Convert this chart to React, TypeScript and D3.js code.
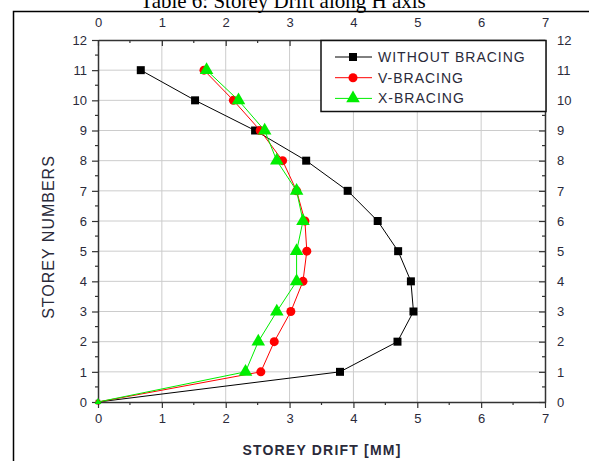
import React, { useRef, useEffect } from 'react';
import * as d3 from 'd3';

const storeys = [0, 1, 2, 3, 4, 5, 6, 7, 8, 9, 10, 11];
const withoutBracing = [0, 3.79, 4.69, 4.94, 4.9, 4.7, 4.38, 3.91, 3.26, 2.46, 1.52, 0.67];
const vBracing = [0, 2.55, 2.76, 3.02, 3.21, 3.27, 3.24, 3.11, 2.89, 2.54, 2.12, 1.66];
const xBracing = [0, 2.31, 2.51, 2.8, 3.11, 3.11, 3.21, 3.11, 2.8, 2.61, 2.2, 1.7];
const xTicks = [0, 1, 2, 3, 4, 5, 6, 7];
const yTicks = [0, 1, 2, 3, 4, 5, 6, 7, 8, 9, 10, 11, 12];
const seriesNames = ['WITHOUT BRACING', 'V-BRACING', 'X-BRACING'];
const seriesColors = ['#000000', '#ff0000', '#00ee00'];

const W = 589;
const H = 461;

const App = () => {
  const svgRef = useRef(null);

  useEffect(() => {
    const svg = d3.select(svgRef.current);
    svg.selectAll('*').remove();

    const x = d3.scaleLinear().domain([0, 7]).range([98, 545]);
    const y = d3.scaleLinear().domain([0, 12]).range([402, 40]);
    const labelColor = '#2a2a3a';
    const font = 'Arial, "Liberation Sans", sans-serif';

    svg.append('rect').attr('width', W).attr('height', H).attr('fill', '#fff');

    // page title, cut off by the top edge like in the scan
    svg.append('text')
      .attr('x', 283).attr('y', 8)
      .attr('text-anchor', 'middle')
      .style('font-family', '"Liberation Serif", "Times New Roman", serif')
      .style('font-size', '21px')
      .text('Table 6: Storey Drift along H axis');

    // outer frame
    svg.append('rect')
      .attr('x', 13.5).attr('y', 11.5).attr('width', 590).attr('height', 470)
      .attr('fill', 'none').attr('stroke', '#000').attr('stroke-width', 1.5);

    // grid
    const grid = svg.append('g').attr('stroke', '#cccccc').attr('stroke-width', 1);
    xTicks.slice(1, -1).forEach(t => {
      grid.append('line').attr('x1', x(t)).attr('x2', x(t)).attr('y1', y(0)).attr('y2', y(12));
    });
    yTicks.slice(1, -1).forEach(t => {
      grid.append('line').attr('x1', x(0)).attr('x2', x(7)).attr('y1', y(t)).attr('y2', y(t));
    });

    // axes
    const axisStyle = (g) => {
      g.selectAll('text').style('font-family', font).style('font-size', '13px').attr('fill', labelColor);
      g.selectAll('path').attr('stroke', '#333').attr('stroke-width', 1.5);
      g.selectAll('line').attr('stroke', '#333').attr('stroke-width', 1.2);
    };
    const minorX = d3.range(0.5, 7, 1);
    const minorY = d3.range(0.5, 12, 1);

    const bottom = svg.append('g').attr('transform', `translate(0,${y(0)})`)
      .call(d3.axisBottom(x).tickValues(xTicks).tickFormat(d3.format('d')).tickSizeInner(6).tickSizeOuter(0).tickPadding(6));
    axisStyle(bottom);
    const top = svg.append('g').attr('transform', `translate(0,${y(12)})`)
      .call(d3.axisTop(x).tickValues(xTicks).tickFormat(d3.format('d')).tickSizeInner(-6).tickSizeOuter(0).tickPadding(13));
    axisStyle(top);
    const left = svg.append('g').attr('transform', `translate(${x(0)},0)`)
      .call(d3.axisLeft(y).tickValues(yTicks).tickFormat(d3.format('d')).tickSizeInner(6).tickSizeOuter(0).tickPadding(5));
    axisStyle(left);
    const right = svg.append('g').attr('transform', `translate(${x(7)},0)`)
      .call(d3.axisRight(y).tickValues(yTicks).tickFormat(d3.format('d')).tickSizeInner(-6).tickSizeOuter(0).tickPadding(12));
    axisStyle(right);

    const minor = svg.append('g').attr('stroke', '#333').attr('stroke-width', 1.2);
    minorX.forEach(t => {
      minor.append('line').attr('x1', x(t)).attr('x2', x(t)).attr('y1', y(0)).attr('y2', y(0) + 3);
      minor.append('line').attr('x1', x(t)).attr('x2', x(t)).attr('y1', y(12)).attr('y2', y(12) + 3);
    });
    minorY.forEach(t => {
      minor.append('line').attr('x1', x(0) - 3).attr('x2', x(0)).attr('y1', y(t)).attr('y2', y(t));
      minor.append('line').attr('x1', x(7) - 3).attr('x2', x(7)).attr('y1', y(t)).attr('y2', y(t));
    });

    // axis titles
    svg.append('text')
      .attr('transform', `translate(54,${y(6) + 16}) rotate(-90)`)
      .attr('text-anchor', 'middle')
      .style('font-family', font).style('font-size', '16px')
      .style('letter-spacing', '1px')
      .attr('fill', labelColor)
      .text('STOREY NUMBERS');
    svg.append('text')
      .attr('x', 322).attr('y', 455)
      .attr('text-anchor', 'middle')
      .style('font-family', font).style('font-size', '14px').style('font-weight', 'bold')
      .style('letter-spacing', '1.2px')
      .attr('fill', labelColor)
      .text('STOREY DRIFT [MM]');

    // series
    const line = d3.line().x(d => x(d[0])).y(d => y(d[1]));
    const all = [withoutBracing, vBracing, xBracing];
    const symbols = [d3.symbolSquare, d3.symbolCircle, d3.symbolTriangle];
    const symSize = [64, 64, 80];

    all.forEach((vals, i) => {
      const pts = vals.map((v, j) => [v, storeys[j]]);
      svg.append('path')
        .datum(pts)
        .attr('d', line)
        .attr('fill', 'none')
        .attr('stroke', seriesColors[i])
        .attr('stroke-width', 1);
      svg.append('g').selectAll('path')
        .data(pts)
        .enter()
        .append('path')
        .attr('transform', d => `translate(${x(d[0])},${y(d[1])})`)
        .attr('d', d3.symbol().type(symbols[i]).size(d => d[1] === 0 ? 20 : symSize[i]))
        .attr('fill', seriesColors[i]);
    });

    // legend
    const lg = svg.append('g');
    lg.append('rect')
      .attr('x', 321).attr('y', 40.5).attr('width', 225).attr('height', 71)
      .attr('fill', '#fff').attr('stroke', '#111').attr('stroke-width', 1.5);
    seriesNames.forEach((name, i) => {
      const ly = 57 + i * 20.7;
      lg.append('line')
        .attr('x1', 335).attr('x2', 372).attr('y1', ly).attr('y2', ly)
        .attr('stroke', seriesColors[i]).attr('stroke-width', 1);
      lg.append('path')
        .attr('transform', `translate(353,${ly})`)
        .attr('d', d3.symbol().type(symbols[i]).size(symSize[i])())
        .attr('fill', seriesColors[i]);
      lg.append('text')
        .attr('x', 378).attr('y', ly + 5)
        .style('font-family', font).style('font-size', '14px')
        .style('letter-spacing', '1px')
        .attr('fill', labelColor)
        .text(name);
    });
  }, []);

  return (
    <svg ref={svgRef} width={W} height={H}
      style={{ position: 'absolute', left: 0, top: 0, display: 'block' }} />
  );
};

export default App;
